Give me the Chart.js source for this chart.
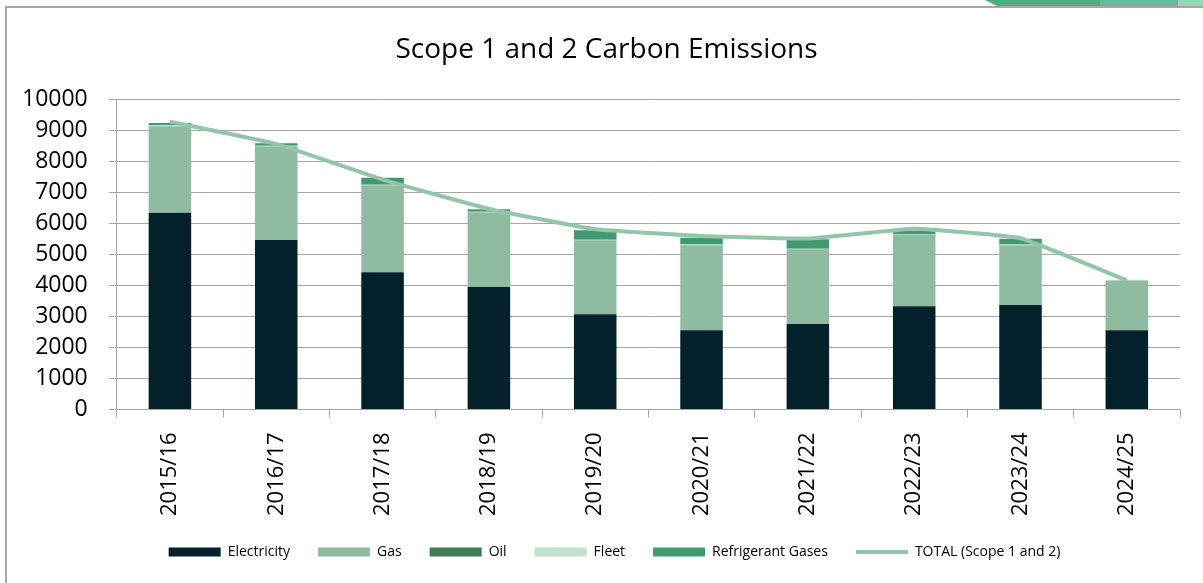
<!DOCTYPE html>
<html>
<head>
<meta charset="utf-8">
<script src="https://cdn.jsdelivr.net/npm/chart.js@4/dist/chart.umd.min.js"></script>
<style>
  body { margin: 0; background: #fff; }
  #frame { position: absolute; left: 5px; top: 6px; right: 0; bottom: 0; border-left: 2px solid #a6a6a6; border-top: 2px solid #a6a6a6; }
  #deco { position: absolute; left: 985px; top: 0; width: 218px; height: 6px;
          background: linear-gradient(to right, #4dae80 0, #4dae80 115px, #5cbf95 115px, #5cbf95 193px, #9bd3b6 193px);
          clip-path: polygon(0 0, 100% 0, 100% 100%, 12px 100%); }
  #wrap { position: absolute; left: 0; top: 0; width: 1203px; height: 583px; }
</style>
</head>
<body>
<div id="frame"></div>
<div id="deco"></div>
<div id="wrap"><canvas id="myChart" width="1203" height="583"></canvas></div>
<script>
const labels = ['2015/16', '2016/17', '2017/18', '2018/19', '2019/20', '2020/21', '2021/22', '2022/23', '2023/24', '2024/25'];
const electricity = [6350, 5470, 4430, 3950, 3070, 2560, 2760, 3330, 3370, 2560];
const gas = [2780, 3000, 2790, 2400, 2370, 2740, 2410, 2300, 1930, 1605];
const oil = [10, 10, 10, 5, 5, 0, 0, 0, 0, 0];
const fleet = [35, 30, 25, 25, 35, 20, 20, 20, 20, 20];
const refrigerant = [70, 80, 220, 80, 300, 220, 300, 110, 190, 0];
const total = [9290, 8570, 7420, 6470, 5815, 5600, 5515, 5835, 5525, 4165];

const font = "'Open Sans', sans-serif";

function bar(label, data, color) {
    return {
        label: label,
        data: data,
        type: 'bar',
        backgroundColor: color,
        borderColor: color,
        borderWidth: 0,
        pointStyle: 'rect',
        stack: 's',
        barPercentage: 0.4,
        categoryPercentage: 1
    };
}

// title and legend sit centred on the whole frame, and the legend hugs the axis labels
const nudge = {
    id: 'nudge',
    afterLayout(chart) {
        chart.titleBlock.left += 32;
        chart.legend.left += 24;
        chart.legend.right += 24;
        chart.legend.top -= 14;
        chart.legend.bottom -= 14;
    }
};

const ctx = document.getElementById('myChart').getContext('2d');

new Chart(ctx, {
    type: 'bar',
    data: {
        labels: labels,
        datasets: [
            {
                label: 'TOTAL (Scope 1 and 2)',
                data: total,
                type: 'line',
                borderColor: '#93c5a9',
                backgroundColor: '#93c5a9',
                borderWidth: 4,
                pointRadius: 0,
                pointStyle: 'line',
                tension: 0.1
            },
            bar('Electricity', electricity, '#03212a'),
            bar('Gas', gas, '#8fbba0'),
            bar('Oil', oil, '#3f7a55'),
            bar('Fleet', fleet, '#c0e0cd'),
            bar('Refrigerant Gases', refrigerant, '#429870')
        ]
    },
    plugins: [nudge],
    options: {
        responsive: false,
        animation: false,
        layout: { padding: { left: 1, right: 23, top: 0, bottom: 0 } },
        scales: {
            x: {
                stacked: true,
                grid: { offset: true, drawOnChartArea: false, tickLength: 8, color: '#a6a6a6' },
                border: { color: '#a6a6a6' },
                ticks: { color: '#000', minRotation: 90, maxRotation: 90, padding: 15, font: { family: font, size: 22 } }
            },
            y: {
                stacked: true,
                min: 0,
                max: 10000,
                grid: { color: '#a6a6a6', tickLength: 8 },
                border: { color: '#a6a6a6' },
                ticks: {
                    stepSize: 1000,
                    autoSkip: false,
                    color: '#000',
                    padding: 21,
                    font: { family: font, size: 23 },
                    callback: v => String(v)
                }
            }
        },
        plugins: {
            title: {
                display: true,
                text: 'Scope 1 and 2 Carbon Emissions',
                color: '#000',
                font: { family: font, size: 28, weight: 'normal' },
                padding: { top: 33, bottom: 33 }
            },
            legend: {
                position: 'bottom',
                labels: {
                    sort: (a, b) => ((a.datasetIndex + 5) % 6) - ((b.datasetIndex + 5) % 6),
                    usePointStyle: true,
                    pointStyleWidth: 52,
                    boxWidth: 52,
                    boxHeight: 9,
                    padding: 28,
                    color: '#000',
                    font: { family: font, size: 14 }
                }
            },
            tooltip: { enabled: false }
        }
    }
});
</script>
</body>
</html>
